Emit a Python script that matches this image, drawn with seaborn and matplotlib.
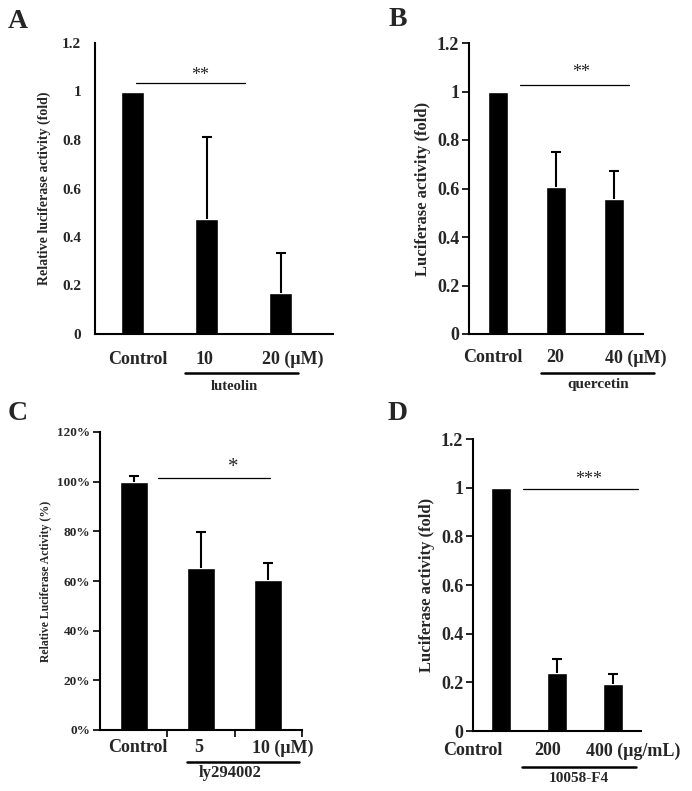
import numpy as np
import pandas as pd
import matplotlib
matplotlib.use("Agg")
import matplotlib.pyplot as plt
import matplotlib.transforms as mtransforms
import seaborn as sns

# values
groups = ["Control", "low", "high"]
luteolin_mean = [1.0, 0.474, 0.169]
luteolin_err = [0.0, 0.338, 0.165]
quercetin_mean = [1.0, 0.606, 0.557]
quercetin_err = [0.0, 0.144, 0.115]
ly_mean = [1.0, 0.652, 0.604]
ly_err = [0.023, 0.145, 0.068]
f4_mean = [1.0, 0.238, 0.193]
f4_err = [0.0, 0.058, 0.041]

luteolin_labels = ["Control", "10", "20 (μM)"]
quercetin_labels = ["Control", "20", "40 (μM)"]
ly_labels = ["Control", "5", "10 (μM)"]
f4_labels = ["Control", "200", "400 (μg/mL)"]

sns.set_theme(style="white")
plt.rcParams["font.family"] = ["Liberation Serif", "DejaVu Serif"]
plt.rcParams["font.weight"] = "bold"

fig = plt.figure(figsize=(6.92, 7.91), dpi=100)


def panel(rect, mean, err, labels, drug, letter, cfg):
    ax = fig.add_axes(rect)
    df = pd.DataFrame({"group": groups, "value": mean})
    sns.barplot(data=df, x="group", y="value", color="black", saturation=1,
                width=cfg["width"], ax=ax, errorbar=None)
    # one-sided (upper) error bars
    x = np.arange(len(mean))
    keep = np.array(err) > 0
    yerr = np.array([np.zeros(len(err)), err])[:, keep]
    eb = ax.errorbar(x[keep], np.array(mean)[keep], yerr=yerr, fmt="none",
                     ecolor="black", elinewidth=1.5, capsize=3.5, capthick=1.5)
    eb[1][0].set_visible(False)
    ax.set_xlim(-0.5, cfg["xmax"])
    ax.set_ylim(0, 1.2)
    ax.set_yticks(np.arange(0, 1.21, 0.2))
    ax.set_yticklabels(cfg["yticks"], fontsize=cfg["ytick_fs"], fontweight="bold")
    ax.set_ylabel(cfg["ylabel"], fontsize=cfg["ylabel_fs"], fontweight="bold", labelpad=cfg["pad"])
    ax.set_xlabel("")
    ax.set_xticks([])
    for s in ["top", "right"]:
        ax.spines[s].set_visible(False)
    for s in ["left", "bottom"]:
        ax.spines[s].set_color("black")
        ax.spines[s].set_linewidth(1.5)
    if cfg["yticks_on"]:
        ax.tick_params(axis="y", which="major", direction="out", length=5, width=1.2,
                       color="black", left=True, pad=2)
    else:
        ax.tick_params(axis="y", left=False, pad=4)
    if cfg.get("xminor"):
        ax.set_xticks([0.5, 1.5, 2.5], minor=True)
        ax.tick_params(axis="x", which="minor", direction="out", length=5, width=1.2,
                       color="black", bottom=True)
    ax.patch.set_alpha(0)

    tr = mtransforms.blended_transform_factory(ax.transData, ax.transAxes)
    for xi, lab in zip(cfg["label_x"], labels):
        ax.text(xi, cfg["label_y"], lab, transform=tr, ha="center", va="center",
                fontsize=13, fontweight="bold")
    ax.plot(cfg["line_x"], [cfg["line_y"]] * 2, transform=tr, color="black",
            lw=1.8, clip_on=False)
    ax.text(cfg["sub_x"], cfg["sub_y"], drug, transform=tr, ha="center", va="center",
            fontsize=cfg["sub_fs"], fontweight="bold")
    # significance bar
    ax.plot(cfg["sig_x"], [cfg["sig_y"]] * 2, color="black", lw=0.9, clip_on=False)
    ax.text(cfg["star_x"], cfg["star_y"], cfg["stars"], ha="center", va="center",
            fontsize=cfg["star_fs"], fontweight="normal", clip_on=False)
    fig.text(cfg["letter"][0] / 692, 1 - cfg["letter"][1] / 791, letter,
             fontsize=20, fontweight="bold", ha="center", va="center")
    return ax


fold_ticks = ["0", "0.2", "0.4", "0.6", "0.8", "1", "1.2"]
pct_ticks = ["0%", "20%", "40%", "60%", "80%", "100%", "120%"]

panel([95 / 692, 1 - 334 / 791, 238 / 692, 291 / 791], luteolin_mean, luteolin_err,
      luteolin_labels, "luteolin", "A",
      dict(width=0.31, xmax=2.7, yticks=fold_ticks, ytick_fs=11,
           ylabel="Relative luciferase activity (fold)", ylabel_fs=10, pad=8,
           yticks_on=False, label_x=[0.07, 0.97, 2.16], label_y=-0.086,
           line_x=[0.71, 2.23], line_y=-0.134, sub_x=1.38, sub_y=-0.179, sub_fs=10.5,
           sig_x=[0.05, 1.52], sig_y=1.035, star_x=0.91, star_y=1.065, stars="**",
           star_fs=13, letter=(18, 22)))

panel([469 / 692, 1 - 334 / 791, 174 / 692, 291 / 791], quercetin_mean, quercetin_err,
      quercetin_labels, "quercetin", "B",
      dict(width=0.345, xmax=2.5, yticks=fold_ticks, ytick_fs=13,
           ylabel="Luciferase activity (fold)", ylabel_fs=12, pad=4,
           yticks_on=True, label_x=[-0.09, 0.98, 2.38], label_y=-0.082,
           line_x=[0.74, 2.69], line_y=-0.134, sub_x=1.72, sub_y=-0.175, sub_fs=11,
           sig_x=[0.38, 2.26], sig_y=1.027, star_x=1.43, star_y=1.077, stars="**",
           star_fs=13, letter=(398, 20)))

panel([100 / 692, 1 - 730 / 791, 202 / 692, 298 / 791], ly_mean, ly_err,
      ly_labels, "ly294002", "C",
      dict(width=0.42, xmax=2.5, yticks=pct_ticks, ytick_fs=9.5,
           ylabel="Relative Luciferase Activity (%)", ylabel_fs=8.5, pad=4,
           yticks_on=True, xminor=True, label_x=[0.06, 0.96, 2.22], label_y=-0.060,
           line_x=[0.79, 2.46], line_y=-0.107, sub_x=1.44, sub_y=-0.144, sub_fs=12,
           sig_x=[0.36, 2.03], sig_y=1.015, star_x=1.48, star_y=1.059, stars="*",
           star_fs=15, letter=(18, 413)))

panel([473 / 692, 1 - 731 / 791, 168 / 692, 292 / 791], f4_mean, f4_err,
      f4_labels, "10058-F4", "D",
      dict(width=0.36, xmax=2.5, yticks=fold_ticks, ytick_fs=13,
           ylabel="Luciferase activity (fold)", ylabel_fs=12, pad=4,
           yticks_on=True, label_x=[-0.50, 0.83, 2.36], label_y=-0.068,
           line_x=[0.38, 2.41], line_y=-0.123, sub_x=1.39, sub_y=-0.164, sub_fs=11,
           sig_x=[0.40, 2.45], sig_y=0.995, star_x=1.57, star_y=1.033, stars="***",
           star_fs=13, letter=(398, 413)))

fig.savefig("out.png", dpi=100, facecolor="white")
